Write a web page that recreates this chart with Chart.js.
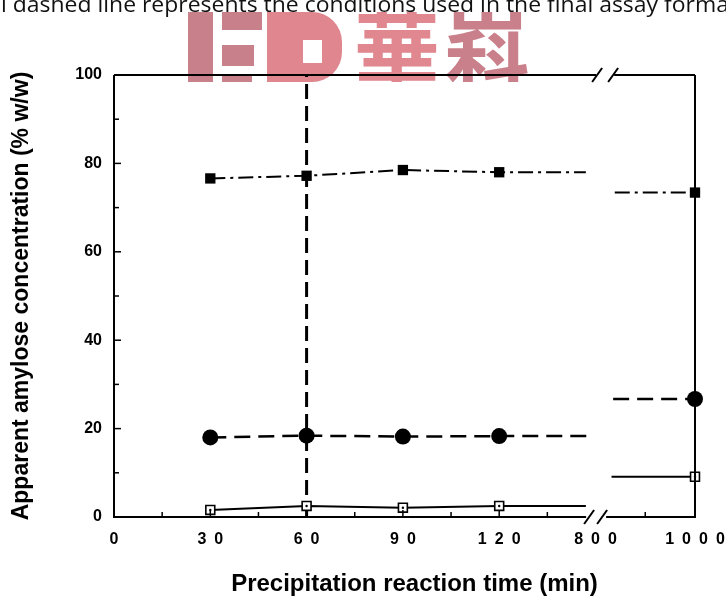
<!DOCTYPE html>
<html>
<head>
<meta charset="utf-8">
<script src="https://cdn.jsdelivr.net/npm/chart.js@4.4.1/dist/chart.umd.min.js"></script>
<style>
  html, body { margin: 0; padding: 0; background: #fff; }
  #wrap { position: relative; width: 726px; height: 596px; overflow: hidden; }
  canvas { position: absolute; left: 0; top: 0; }
  #caption { position: absolute; left: 1px; top: -6px; font-family: "Open Sans"; font-size: 21px; line-height: 21px;
             white-space: nowrap; color: #111; transform-origin: 0 0; }
  #mark { position: absolute; left: 188px; top: 12px; width: 342px; height: 70px; mix-blend-mode: multiply; overflow: hidden; }
  #mark div, #mark span { position: absolute; }
  #mark span { font-family: 'Noto Sans CJK SC'; font-weight: bold; font-size: 86px; line-height: 1; top: -9px; }
  .e { background: #c8808a; }
  .d { background: #df868f; }
</style>
</head>
<body>
<div id="wrap">
  <canvas id="chart" width="726" height="596"></canvas>
  <div id="caption">l dashed line represents the conditions used in the final assay forma</div>
  <div id="mark">
    <div class="e" style="left:0;top:0;width:25px;height:70px;"></div>
    <div class="e" style="left:34px;top:0;width:40px;height:18px;"></div>
    <div class="e" style="left:34px;top:33px;width:32px;height:21px;"></div>
    <div class="e" style="left:34px;top:62px;width:30px;height:8px;"></div>
    <div class="d" style="left:79px;top:0;width:28px;height:70px;"></div>
    <div class="d" style="left:107px;top:0;width:47px;height:70px;border-radius:0 30px 30px 0;"></div>
    <div style="left:115px;top:28px;width:19px;height:23px;background:#fff;"></div>
    <span style="left:166px;color:#e0878f;">華</span>
    <span style="left:256px;color:#c9808a;">嵙</span>
  </div>
</div>
<script>
// minutes shown on the x axis
const tickMinutes = [0, 30, 60, 90, 120, 800, 1000];
const minorMinutes = [15, 45, 75, 105, 135, 900];
const yTickValues = [0, 20, 40, 60, 80, 100];
const yMinorValues = [10, 30, 50, 70, 90];

// measured points
const times = [30, 60, 90, 120, 1000];
const filledSquares = [76.6, 77.2, 78.5, 78.0, 73.4];
const filledCircles = [18.0, 18.4, 18.2, 18.3, 26.7];
const openSquares = [1.6, 2.5, 2.1, 2.5, 9.1];
const assayTime = 60; // final assay condition (vertical dashed line)

const xLabel = 'Precipitation reaction time (min)';
const yLabel = 'Apparent amylose concentration (% w/w)';

// broken axis: 0-150 min linear, then 800-1000 squeezed
function toAxis(t) {
  return t <= 150 ? t : 150 + (t - 800) * 0.155;
}
const xMax = toAxis(1000);

// line stops before the break and restarts after it (axis units)
function brokenSeries(vals, stopAt, startAt) {
  const pts = times.slice(0, 4).map((t, i) => ({ x: toAxis(t), y: vals[i] }));
  pts.push({ x: stopAt, y: vals[3] });
  pts.push({ x: (stopAt + startAt) / 2, y: null });
  pts.push({ x: startAt, y: vals[4] });
  pts.push({ x: toAxis(times[4]), y: vals[4] });
  return pts;
}
function radii(r) { return [r, r, r, r, 0, 0, 0, r]; }

const axisFont = { family: 'Liberation Sans', size: 16, weight: 'bold' };

const framePlugin = {
  id: 'frame',
  afterDatasetsDraw(chart) {
    const { ctx, chartArea: a, scales: { x, y } } = chart;
    ctx.save();
    ctx.strokeStyle = '#000';
    ctx.lineWidth = 2;
    const line = (x1, y1, x2, y2) => { ctx.beginPath(); ctx.moveTo(x1, y1); ctx.lineTo(x2, y2); ctx.stroke(); };
    line(a.left, a.top, a.left, a.bottom + 1);
    line(a.right, a.top, a.right, a.bottom + 1);
    // bottom with break
    const bb = x.getPixelForValue(150.5);
    line(a.left, a.bottom, bb - 11, a.bottom);
    line(bb + 9, a.bottom, a.right, a.bottom);
    line(bb - 13, a.bottom + 7, bb - 3, a.bottom - 7);
    line(bb, a.bottom + 7, bb + 10, a.bottom - 7);
    // top with break
    const tb = x.getPixelForValue(153);
    line(a.left, a.top, tb - 9, a.top);
    line(tb + 9, a.top, a.right, a.top);
    line(tb - 13, a.top + 7, tb - 3, a.top - 7);
    line(tb + 3, a.top + 7, tb + 13, a.top - 7);
    // inward ticks
    ctx.lineWidth = 1.5;
    yTickValues.forEach(v => { const p = y.getPixelForValue(v); line(a.left, p, a.left + 7, p); });
    yMinorValues.forEach(v => { const p = y.getPixelForValue(v); line(a.left, p, a.left + 5, p); });
    tickMinutes.slice(1, 5).forEach(t => { const p = x.getPixelForValue(toAxis(t)); line(p, a.bottom, p, a.bottom - 7); });
    minorMinutes.forEach(t => { const p = x.getPixelForValue(toAxis(t)); line(p, a.bottom, p, a.bottom - 5); });
    // x axis title, sits a little right of centre in the original
    ctx.fillStyle = '#000';
    ctx.font = 'bold 24px "Liberation Sans"';
    ctx.textAlign = 'center';
    ctx.textBaseline = 'middle';
    ctx.fillText(xLabel, (a.left + a.right) / 2 + 10, 584);
    ctx.restore();
  }
};

new Chart(document.getElementById('chart'), {
  type: 'line',
  data: {
    datasets: [
      {
        data: brokenSeries(filledSquares, 147, 156),
        borderColor: '#000', backgroundColor: '#000', borderWidth: 2,
        borderDash: [15, 5, 3, 5],
        pointStyle: 'rect', pointRadius: radii(7.3), pointBorderWidth: 0,
        clip: false, order: 2
      },
      {
        data: brokenSeries(filledCircles, 148.5, 155.5),
        borderColor: '#000', backgroundColor: '#000', borderWidth: 2.5,
        borderDash: [16, 8],
        pointStyle: 'circle', pointRadius: radii(8), pointBorderWidth: 0,
        clip: false, order: 2
      },
      {
        data: brokenSeries(openSquares, 147, 155),
        borderColor: '#000', backgroundColor: '#fff', borderWidth: 2,
        pointStyle: 'rect', pointRadius: radii(6.3), pointBorderWidth: 1.6,
        pointBorderColor: '#000', pointBackgroundColor: '#fff',
        clip: false, order: 1
      },
      {
        // centre dot inside the open squares
        data: times.map((t, i) => ({ x: toAxis(t), y: openSquares[i] })),
        showLine: false, pointRadius: 1.2, pointBorderWidth: 0,
        pointBackgroundColor: '#000', clip: false, order: 0
      },
      {
        data: [{ x: toAxis(assayTime), y: 0 }, { x: toAxis(assayTime), y: 100 }],
        borderColor: '#000', borderWidth: 3, borderDash: [15, 7],
        pointRadius: 0, clip: false, order: 5
      }
    ]
  },
  options: {
    responsive: false,
    animation: false,
    layout: { padding: { top: 75, right: 31, left: 0, bottom: 0 } },
    plugins: { legend: { display: false }, tooltip: { enabled: false } },
    scales: {
      x: {
        type: 'linear', min: 0, max: xMax,
        grid: { display: false, drawTicks: false },
        border: { display: false },
        afterBuildTicks: s => { s.ticks = tickMinutes.map(t => ({ value: toAxis(t) })); },
        afterFit: s => { s.height = 79; s.paddingLeft = 0; s.paddingRight = 0; },
        ticks: {
          autoSkip: false, maxRotation: 0, padding: 13, color: '#000', font: axisFont,
          callback: (v, i) => String(tickMinutes[i]).split('').join('\u2002')
        }
      },
      y: {
        min: 0, max: 100,
        grid: { display: false, drawTicks: false },
        border: { display: false },
        afterFit: s => { s.width = 114; },
        ticks: { stepSize: 20, padding: 12, color: '#000', font: axisFont },
        title: {
          display: true, text: yLabel, color: '#000',
          font: { family: 'Liberation Sans', size: 23, weight: 'bold' },
          padding: { top: 8, bottom: 0 }
        }
      }
    }
  },
  plugins: [framePlugin]
});

// stretch the cut-off caption to the page width
const cap = document.getElementById('caption');
cap.style.transform = 'scaleX(' + (728 / cap.scrollWidth) + ')';
</script>
</body>
</html>
